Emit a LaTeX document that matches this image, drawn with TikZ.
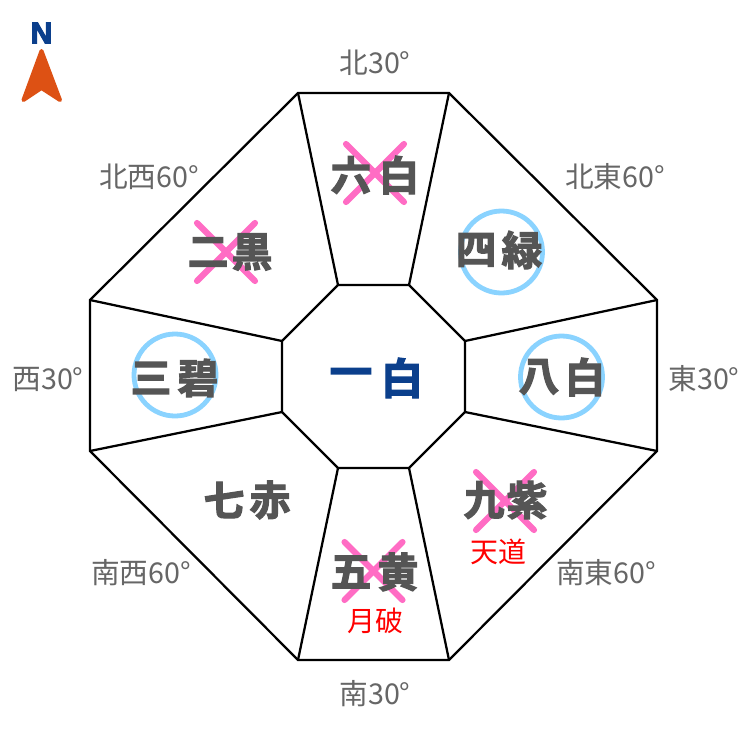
\documentclass[tikz,border=0pt]{standalone}
\usepackage{fontspec}
\newfontfamily\cjk{Noto Sans CJK JP}
\newfontfamily\cjkh[UprightFont=* Bold,FakeBold=3]{Noto Sans CJK JP}
\newfontfamily\latinh[UprightFont=* Bold,FakeBold=3.5]{Liberation Sans}
\definecolor{navy}{HTML}{0B3F8C}
\definecolor{goodc}{HTML}{8AD3FF}
\definecolor{badc}{HTML}{FF6CC4}
\definecolor{arr}{HTML}{DD5114}
\definecolor{inkc}{HTML}{555555}
\definecolor{labc}{HTML}{666666}
\tikzset{
 edge/.style={draw=black,line width=1.7pt},
 dirlab/.style={font=\cjk\fontsize{21.5}{22}\selectfont,text=labc,inner sep=0pt},
 star/.style={font=\cjkh\fontsize{30.5}{32}\selectfont,text=inkc,inner sep=0pt},
 bigstar/.style={font=\cjkh\fontsize{32}{34}\selectfont,text=navy,inner sep=0pt},
 note/.style={font=\cjk\fontsize{21}{22}\selectfont,text=red,inner sep=0pt},
 good/.style={draw=goodc,line width=3.6pt},
 bad/.style={draw=badc,line width=4.6pt,line cap=round}
}
\begin{document}
\begin{tikzpicture}[x=0.75pt,y=-0.75pt]
\useasboundingbox (0,0) rectangle (750,750);
\fill[white] (0,0) rectangle (750,750);
\coordinate (o1) at (298,93);\coordinate (o2) at (449,93);\coordinate (o3) at (657,300);\coordinate (o4) at (657,451);
\coordinate (o5) at (449,660);\coordinate (o6) at (298,660);\coordinate (o7) at (90,451);\coordinate (o8) at (90,300);
\coordinate (i1) at (338,285);\coordinate (i2) at (409,285);\coordinate (i3) at (465,341);\coordinate (i4) at (465,412);
\coordinate (i5) at (409,468);\coordinate (i6) at (338,468);\coordinate (i7) at (282,412);\coordinate (i8) at (282,341);
\draw[edge] (o1)--(o2)--(o3)--(o4)--(o5)--(o6)--(o7)--(o8)--cycle;
\draw[edge] (i1)--(i2)--(i3)--(i4)--(i5)--(i6)--(i7)--(i8)--cycle;
\foreach \k in {1,...,8}{\draw[edge] (o\k)--(i\k);}
\node[dirlab] (n) at (375,63) {北30°};
\node[dirlab] (ne) at (615,177) {北東60°};
\node[dirlab] (e) at (704,379) {東30°};
\node[dirlab] (se) at (606,573) {南東60°};
\node[dirlab] (s) at (375,694) {南30°};
\node[dirlab] (sw) at (141,573) {南西60°};
\node[dirlab] (w) at (48,379) {西30°};
\node[dirlab] (nw) at (149,177) {北西60°};
\draw[good] (501.5,252) circle (41);
\draw[good] (561.5,377) circle (41);
\draw[good] (175,375) circle (41);
\foreach \x/\y in {375/173,226/252,505/501,373.5/571}{
 \draw[bad] (\x-29,\y-29)--(\x+29,\y+29);
 \draw[bad] (\x+29,\y-29)--(\x-29,\y+29);
}
\node[star] (a1) at (351,175) {六};
\node[star] (a2) at (399,175) {白};
\node[star] (b1) at (208,252) {二};
\node[star] (b2) at (252,252) {黒};
\node[star] (c1) at (476,250) {四};
\node[star] (c2) at (522,250) {緑};
\node[star] (d1) at (539,377) {八};
\node[star] (d2) at (585,377) {白};
\node[star] (e1) at (151,378) {三};
\node[star] (e2) at (198,378) {碧};
\node[star] (f1) at (224,500) {七};
\node[star] (f2) at (270,500) {赤};
\node[star] (g1) at (484,500) {九};
\node[star] (g2) at (527,500) {紫};
\node[star] (h1) at (351,572) {五};
\node[star] (h2) at (398,572) {黄};
\node[bigstar] (m1) at (351,378) {一};
\node[bigstar] (m2) at (402,378) {白};
\node[note] (t) at (498,552) {天道};
\node[note] (g) at (375,621) {月破};
\fill[arr,draw=arr,line width=3pt,line join=round] (41.5,51)--(60,100)--(41.5,88)--(23.5,100)--cycle;
\node[font=\latinh\fontsize{22.5}{22}\selectfont,text=navy,inner sep=0pt] (north) at (41.5,33) {N};
\end{tikzpicture}
\end{document}
